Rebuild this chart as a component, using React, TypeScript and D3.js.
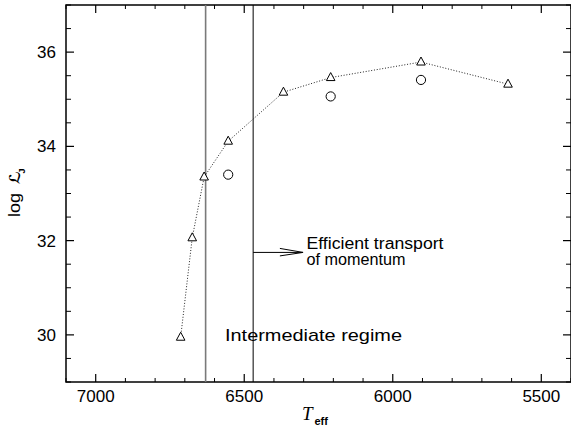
import React from "react";
import * as d3 from "d3";

// Triangles (connected by dotted line)
const teffTri = [6714, 6675, 6635, 6554, 6368, 6209, 5905, 5612];
const logLTri = [29.95, 32.06, 33.35, 34.11, 35.15, 35.46, 35.79, 35.32];
// Open circles
const teffCirc = [6554, 6209, 5905];
const logLCirc = [33.4, 35.06, 35.41];
// Axis ticks
const xMajor = [7000, 6500, 6000, 5500];
const xMinor = d3.range(5400, 7101, 100).filter((v) => !xMajor.includes(v));
const yMajor = [30, 32, 34, 36];
const yMinor = d3.range(29, 37.01, 0.5).filter((v) => !yMajor.includes(v));
// Regime boundaries
const boundaryGray = 6630;
const boundaryBlack = 6470;
// Arrow
const arrowFrom = 6470;
const arrowTo = 6302;
const arrowBack = 6380;
const arrowL = 31.75;

export default function App() {
  const W = 571;
  const H = 427;
  const left = 66,
    right = 571,
    top = 5,
    bottom = 382;
  const x = d3.scaleLinear().domain([7100, 5400]).range([left, right]);
  const y = d3.scaleLinear().domain([29, 37]).range([bottom, top]);

  const tri = teffTri.map((t, i) => [x(t), y(logLTri[i])] as [number, number]);
  const line = d3.line()(tri) || "";

  const sans = "'Liberation Sans', Arial, sans-serif";
  const ay = y(arrowL);

  return (
    <svg
      width={W}
      height={H}
      style={{ position: "absolute", left: 0, top: 0, background: "#fff" }}
    >
      <rect x={0} y={0} width={W} height={H} fill="#fff" />
      {/* ticks */}
      {xMajor.map((v) => (
        <g key={"xM" + v}>
          <line x1={x(v)} x2={x(v)} y1={bottom} y2={bottom - 8} stroke="#000" strokeWidth={1.2} />
          <line x1={x(v)} x2={x(v)} y1={top} y2={top + 8} stroke="#000" strokeWidth={1.2} />
          <text x={x(v)} y={402} fontFamily={sans} fontSize={17} textAnchor="middle" fill="#000">
            {v}
          </text>
        </g>
      ))}
      {xMinor.map((v) => (
        <g key={"xm" + v}>
          <line x1={x(v)} x2={x(v)} y1={bottom} y2={bottom - 4} stroke="#000" strokeWidth={1} />
          <line x1={x(v)} x2={x(v)} y1={top} y2={top + 4} stroke="#000" strokeWidth={1} />
        </g>
      ))}
      {yMajor.map((v) => (
        <g key={"yM" + v}>
          <line x1={left} x2={left + 8} y1={y(v)} y2={y(v)} stroke="#000" strokeWidth={1.2} />
          <line x1={right} x2={right - 8} y1={y(v)} y2={y(v)} stroke="#000" strokeWidth={1.2} />
          <text x={56} y={y(v) + 6} fontFamily={sans} fontSize={17} textAnchor="end" fill="#000">
            {v}
          </text>
        </g>
      ))}
      {yMinor.map((v) => (
        <g key={"ym" + v}>
          <line x1={left} x2={left + 5} y1={y(v)} y2={y(v)} stroke="#000" strokeWidth={1} />
          <line x1={right} x2={right - 5} y1={y(v)} y2={y(v)} stroke="#000" strokeWidth={1} />
        </g>
      ))}
      {/* frame */}
      <rect
        x={left}
        y={top}
        width={right - left}
        height={bottom - top}
        fill="none"
        stroke="#000"
        strokeWidth={1.5}
      />
      {/* boundaries */}
      <line x1={x(boundaryGray)} x2={x(boundaryGray)} y1={top} y2={bottom} stroke="#7a7a7a" strokeWidth={1.6} />
      <line x1={x(boundaryBlack)} x2={x(boundaryBlack)} y1={top} y2={bottom} stroke="#000" strokeWidth={1} />
      {/* dotted line */}
      <path d={line} fill="none" stroke="#222" strokeWidth={1} strokeDasharray="1 1.8" />
      {/* triangles */}
      {tri.map(([px, py], i) => (
        <path
          key={"t" + i}
          d={`M${px},${py - 5}L${px - 4.3},${py + 3}L${px + 4.3},${py + 3}Z`}
          fill="#fff"
          stroke="#000"
          strokeWidth={1}
        />
      ))}
      {/* circles */}
      {teffCirc.map((t, i) => (
        <circle key={"c" + i} cx={x(t)} cy={y(logLCirc[i])} r={4.6} fill="none" stroke="#000" strokeWidth={1} />
      ))}
      {/* arrow */}
      <line x1={x(arrowFrom)} x2={x(arrowTo)} y1={ay} y2={ay} stroke="#000" strokeWidth={1} />
      <path
        d={`M${x(arrowBack)},${ay - 4}L${x(arrowTo)},${ay}L${x(arrowBack)},${ay + 3.5}`}
        fill="none"
        stroke="#000"
        strokeWidth={1}
      />
      {/* annotations */}
      <text x={306.5} y={249} fontFamily={sans} fontSize={16} textLength={137} lengthAdjust="spacingAndGlyphs" fill="#000">
        Efficient transport
      </text>
      <text x={306.5} y={265} fontFamily={sans} fontSize={16} textLength={99} lengthAdjust="spacingAndGlyphs" fill="#000">
        of momentum
      </text>
      <text x={225} y={341} fontFamily={sans} fontSize={17} textLength={177} lengthAdjust="spacingAndGlyphs" fill="#000">
        Intermediate regime
      </text>
      {/* x label */}
      <text x={302} y={420} fontFamily="'Liberation Serif', 'Times New Roman', serif" fontStyle="italic" fontSize={19} fill="#000">
        T
      </text>
      <text x={314.5} y={425} fontFamily={sans} fontWeight="bold" fontSize={11} fill="#000">
        eff
      </text>
      {/* y label */}
      <g transform="translate(20,0) rotate(-90)">
        <text x={-217} y={0} fontFamily={sans} fontSize={17} textLength={24} lengthAdjust="spacingAndGlyphs" fill="#000">
          log
        </text>
        <text x={-184} y={0} fontFamily="'DejaVu Sans', sans-serif" fontWeight="bold" fontSize={15} fill="#000">
          ℒ
        </text>
        <text x={-173.5} y={4.5} fontFamily={sans} fontWeight="bold" fontSize={9} fill="#000">
          J
        </text>
      </g>
    </svg>
  );
}
